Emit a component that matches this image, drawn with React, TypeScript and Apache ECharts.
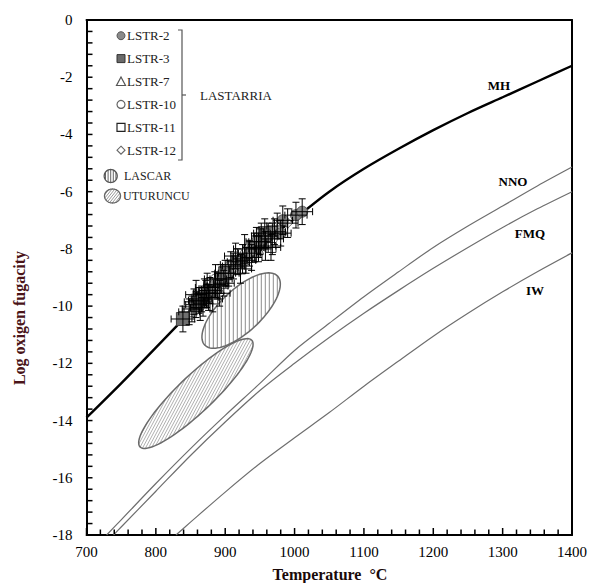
import React, { useEffect, useRef } from "react";
import * as echarts from "echarts";

// ---------- data ----------
const X_MIN = 700, X_MAX = 1400, X_STEP = 100, X_MINOR = 20;
const Y_MIN = -18, Y_MAX = 0, Y_STEP = 2, Y_MINOR = 0.4;

const MH = [[700,-13.9],[750,-12.7],[800,-11.45],[850,-10.2],[900,-9.0],[950,-7.9],[1000,-6.95],[1050,-6.0],[1100,-5.2],[1150,-4.5],[1200,-3.85],[1250,-3.25],[1300,-2.7],[1350,-2.15],[1400,-1.6]];
const NNO = [[729,-18],[750,-17.47],[800,-16.2],[850,-14.98],[900,-13.82],[950,-12.7],[1000,-11.55],[1050,-10.6],[1100,-9.67],[1150,-8.8],[1200,-7.95],[1250,-7.2],[1300,-6.5],[1350,-5.8],[1400,-5.14]];
const FMQ = [[739,-18],[750,-17.72],[800,-16.47],[850,-15.22],[900,-14.05],[950,-12.95],[1000,-12.0],[1050,-11.1],[1100,-10.25],[1150,-9.45],[1200,-8.68],[1250,-7.95],[1300,-7.25],[1350,-6.6],[1400,-6.0]];
const IW = [[829,-18],[850,-17.55],[900,-16.5],[950,-15.5],[1000,-14.6],[1050,-13.72],[1100,-12.8],[1150,-11.92],[1200,-11.05],[1250,-10.25],[1300,-9.5],[1350,-8.8],[1400,-8.14]];

// [T, logfO2, errT, errfO2]
const LSTR2 = [[862,-9.8,15,0.45],[872,-9.55,14,0.45],[885,-9.25,16,0.45],[905,-8.85,15,0.45],[925,-8.35,14,0.5],[935,-8.15,16,0.45],[945,-7.75,15,0.5],[962,-7.55,14,0.45],[971,-7.4,16,0.45],[980,-7.45,15,0.45],[983,-7.0,14,0.5],[1002,-6.82,16,0.45],[1011,-6.7,15,0.45]];
const LSTR3 = [[839,-10.45,17,0.45],[858,-9.95,15,0.45],[866,-9.75,14,0.45],[878,-9.45,16,0.45],[894,-9.05,16,0.5],[900,-8.85,15,0.45],[918,-8.45,15,0.45],[942,-7.95,14,0.5],[950,-7.75,16,0.45],[957,-7.45,16,0.5]];
const LSTR7 = [[852,-10.1,14,0.45],[868,-9.9,14,0.45],[874,-9.35,17,0.5],[889,-9.3,15,0.45],[912,-8.6,16,0.45],[928,-8.0,16,0.5],[948,-8.0,14,0.45]];
const LSTR10 = [[855,-9.85,14,0.45],[876,-9.7,15,0.45],[886,-9.05,16,0.5],[908,-8.55,15,0.45],[930,-8.4,14,0.45],[958,-7.9,15,0.5],[968,-7.65,16,0.55]];
const LSTR11 = [[848,-10.2,15,0.45],[870,-9.55,16,0.5],[882,-9.75,14,0.45],[898,-9.2,15,0.45],[922,-8.7,16,0.5],[938,-8.3,15,0.45],[966,-7.95,14,0.45]];
const LSTR12 = [[858,-9.6,15,0.5],[864,-10.05,14,0.45],[892,-9.55,15,0.45],[915,-8.25,16,0.45],[952,-7.55,14,0.45],[975,-7.2,15,0.45],[990,-7.1,15,0.5]];

// ellipse fields: major-axis end points [T1, fO2_1, T2, fO2_2]
const LASCAR = [[870.4,-11.36,975.5,-8.95]];
const UTURUNCU = [[777.2,-14.92,938.2,-11.19]];

const SERIF = "'Liberation Serif', 'Times New Roman', serif";

function ellipseParts(cx: number, cy: number, a: number, b: number, th: number,
  hatchAngle: number, spacing: number, hatchColor: string, borderColor: string, borderWidth: number) {
  const ux = Math.cos(th), uy = Math.sin(th);
  const vx = -uy, vy = ux;
  const pts: number[][] = [];
  for (let i = 0; i < 90; i++) {
    const t = (i / 90) * Math.PI * 2;
    const x = a * Math.cos(t), y = b * Math.sin(t);
    pts.push([cx + x * ux + y * vx, cy + x * uy + y * vy]);
  }
  const dx = Math.cos(hatchAngle), dy = Math.sin(hatchAngle);
  const nx = -dy, ny = dx;
  const du = dx * ux + dy * uy, dv = dx * vx + dy * vy;
  const nu = nx * ux + ny * uy, nv = nx * vx + ny * vy;
  const A = (du * du) / (a * a) + (dv * dv) / (b * b);
  const children: any[] = [];
  for (let t = -a + spacing / 2; t <= a; t += spacing) {
    const B = 2 * t * ((nu * du) / (a * a) + (nv * dv) / (b * b));
    const C = t * t * ((nu * nu) / (a * a) + (nv * nv) / (b * b)) - 1;
    const disc = B * B - 4 * A * C;
    if (disc <= 0) continue;
    const s = Math.sqrt(disc);
    const k1 = (-B - s) / (2 * A), k2 = (-B + s) / (2 * A);
    children.push({
      type: "line",
      shape: { x1: cx + t * nx + k1 * dx, y1: cy + t * ny + k1 * dy, x2: cx + t * nx + k2 * dx, y2: cy + t * ny + k2 * dy },
      style: { stroke: hatchColor, lineWidth: 1 },
    });
  }
  children.push({ type: "polygon", shape: { points: pts }, style: { fill: "none", stroke: borderColor, lineWidth: borderWidth } });
  return children;
}

function ellipseSeries(name: string, data: number[][], minor: number, hatchAngle: number, spacing: number, hatchColor: string) {
  return {
    name,
    type: "custom",
    z: 1,
    encode: { x: [0, 2], y: [1, 3] },
    data,
    renderItem: (_p: any, api: any) => {
      const p1 = api.coord([api.value(0), api.value(1)]);
      const p2 = api.coord([api.value(2), api.value(3)]);
      const cx = (p1[0] + p2[0]) / 2, cy = (p1[1] + p2[1]) / 2;
      const a = Math.hypot(p2[0] - p1[0], p2[1] - p1[1]) / 2;
      const th = Math.atan2(p2[1] - p1[1], p2[0] - p1[0]);
      return { type: "group", children: ellipseParts(cx, cy, a, minor, th, hatchAngle, spacing, hatchColor, "#6a6a6a", 1.5) };
    },
  };
}

const ALL_POINTS = [...LSTR3, ...LSTR2, ...LSTR7, ...LSTR10, ...LSTR11, ...LSTR12];

function scatter(name: string, data: number[][], symbol: string, size: number, fill: string, stroke: string) {
  return {
    name,
    type: "scatter",
    z: 3,
    data: data.map((d) => [d[0], d[1]]),
    symbol,
    symbolSize: size,
    itemStyle: { color: fill, borderColor: stroke, borderWidth: 1, opacity: 1 },
  };
}

function curve(name: string, data: number[][], color: string, width: number) {
  return {
    name,
    type: "line",
    data,
    smooth: 0.3,
    showSymbol: false,
    z: 2,
    lineStyle: { color, width },
  };
}

const frameAxis = (extra: any) => ({
  type: "value",
  axisLine: { show: true, onZero: false, lineStyle: { color: "#000", width: 2 } },
  axisTick: { show: false },
  axisLabel: { show: false },
  splitLine: { show: false },
  ...extra,
});

// inward tick marks along the bottom and left axes, placed through the axis scales
const tickSeries = {
  name: "ticks",
  type: "custom",
  z: 50,
  silent: true,
  clip: false,
  encode: { x: 0, y: 1 },
  data: [[(X_MIN + X_MAX) / 2, (Y_MIN + Y_MAX) / 2]],
  renderItem: (_p: any, api: any) => {
    const st = { stroke: "#000", lineWidth: 1.5 };
    const children: any[] = [];
    const nx = Math.round((X_MAX - X_MIN) / X_MINOR);
    for (let i = 0; i <= nx; i++) {
      const T = X_MIN + i * X_MINOR;
      const p = api.coord([T, Y_MIN]);
      const major = i % Math.round(X_STEP / X_MINOR) === 0;
      children.push({ type: "line", shape: { x1: p[0], y1: p[1] - 1, x2: p[0], y2: p[1] - (major ? 7 : 5.5) }, style: st });
    }
    const ny = Math.round((Y_MAX - Y_MIN) / Y_MINOR);
    for (let i = 0; i <= ny; i++) {
      const V = Y_MIN + i * Y_MINOR;
      const p = api.coord([X_MIN, V]);
      children.push({ type: "line", shape: { x1: p[0] + 1, y1: p[1], x2: p[0] + 6, y2: p[1] }, style: st });
    }
    return { type: "group", children };
  },
};

export default function App() {
  const ref = useRef<HTMLDivElement>(null);
  useEffect(() => {
    const chart = echarts.init(ref.current!, null, { renderer: "svg" });
    const legendY = [35.7, 58.6, 81.5, 104.4, 127.3, 150.2];
    const legendNames = ["LSTR-2", "LSTR-3", "LSTR-7", "LSTR-10", "LSTR-11", "LSTR-12"];
    const lx = 121;
    const legendIcons: any[] = [
      { type: "circle", shape: { cx: lx, cy: legendY[0], r: 4 }, style: { fill: "#8a8a8a", stroke: "#555", lineWidth: 1 } },
      { type: "rect", shape: { x: lx - 4, y: legendY[1] - 4, width: 8, height: 8 }, style: { fill: "#6a6a6a", stroke: "#333", lineWidth: 1 } },
      { type: "polygon", shape: { points: [[lx - 4.5, legendY[2] + 4], [lx + 4.5, legendY[2] + 4], [lx, legendY[2] - 4.5]] }, style: { fill: "#fff", stroke: "#555", lineWidth: 1.2 } },
      { type: "circle", shape: { cx: lx, cy: legendY[3], r: 4 }, style: { fill: "#fff", stroke: "#666", lineWidth: 1.2 } },
      { type: "rect", shape: { x: lx - 4, y: legendY[4] - 4, width: 8, height: 8 }, style: { fill: "#fff", stroke: "#222", lineWidth: 1.2 } },
      { type: "polygon", shape: { points: [[lx, legendY[5] - 4], [lx + 4, legendY[5]], [lx, legendY[5] + 4], [lx - 4, legendY[5]]] }, style: { fill: "#fff", stroke: "#666", lineWidth: 1.1 } },
    ];
    const legendTexts = legendNames.map((n, i) => ({
      type: "text", x: 127, y: legendY[i],
      style: { text: n, fontFamily: SERIF, fontSize: 13, fill: "#222", textVerticalAlign: "middle", textAlign: "left" },
    }));

    const option: any = {
      animation: false,
      backgroundColor: "#fff",
      grid: { left: 86.5, right: 12, top: 20, bottom: 48, show: false },
      xAxis: [
        {
          type: "value", min: X_MIN, max: X_MAX, interval: X_STEP, position: "bottom",
          axisLine: { show: true, onZero: false, lineStyle: { color: "#000", width: 2 } },
          axisTick: { show: false },
          splitLine: { show: false },
          axisLabel: { color: "#000", fontFamily: SERIF, fontSize: 15, margin: 9, formatter: (v: number) => String(v) },
        },
        frameAxis({ min: X_MIN, max: X_MAX, position: "top" }),
      ],
      yAxis: [
        {
          type: "value", min: Y_MIN, max: Y_MAX, interval: Y_STEP, position: "left",
          axisLine: { show: true, onZero: false, lineStyle: { color: "#000", width: 2 } },
          axisTick: { show: false },
          splitLine: { show: false },
          axisLabel: { color: "#000", fontFamily: SERIF, fontSize: 15, margin: 14, formatter: (v: number) => String(v) },
        },
        frameAxis({ min: Y_MIN, max: Y_MAX, position: "right" }),
      ],
      series: [
        ellipseSeries("LASCAR", LASCAR, 21, Math.PI / 2, 4, "#8c8c8c"),
        ellipseSeries("UTURUNCU", UTURUNCU, 18, -1.08, 2.6, "#b0b0b0"),
        curve("MH", MH, "#000", 2.4),
        curve("NNO", NNO, "#6e6e6e", 1.2),
        curve("FMQ", FMQ, "#6e6e6e", 1.2),
        curve("IW", IW, "#6e6e6e", 1.2),
        scatter("LSTR-10", LSTR10, "circle", 10, "#fff", "#666"),
        scatter("LSTR-11", LSTR11, "rect", 10, "#fff", "#333"),
        scatter("LSTR-12", LSTR12, "diamond", 10, "#fff", "#666"),
        scatter("LSTR-7", LSTR7, "triangle", 10, "#fff", "#555"),
        scatter("LSTR-3", LSTR3, "rect", 13, "#707070", "#444"),
        scatter("LSTR-2", LSTR2, "circle", 11, "#8a8a8a", "#555"),
        {
          name: "error",
          type: "custom",
          z: 4,
          encode: { x: 0, y: 1 },
          data: ALL_POINTS,
          renderItem: (_p: any, api: any) => {
            const t = api.value(0), v = api.value(1), dt = api.value(2), dv = api.value(3);
            const l = api.coord([t - dt, v]), r = api.coord([t + dt, v]);
            const b = api.coord([t, v - dv]), u = api.coord([t, v + dv]);
            const cap = 3.5;
            const st = { stroke: "#000", lineWidth: 1 };
            return {
              type: "group",
              children: [
                { type: "line", shape: { x1: l[0], y1: l[1], x2: r[0], y2: r[1] }, style: st },
                { type: "line", shape: { x1: l[0], y1: l[1] - cap, x2: l[0], y2: l[1] + cap }, style: st },
                { type: "line", shape: { x1: r[0], y1: r[1] - cap, x2: r[0], y2: r[1] + cap }, style: st },
                { type: "line", shape: { x1: b[0], y1: b[1], x2: u[0], y2: u[1] }, style: st },
                { type: "line", shape: { x1: b[0] - cap, y1: b[1], x2: b[0] + cap, y2: b[1] }, style: st },
                { type: "line", shape: { x1: u[0] - cap, y1: u[1], x2: u[0] + cap, y2: u[1] }, style: st },
              ],
            };
          },
        },
        tickSeries,
      ],
      graphic: [
        ...legendIcons,
        ...legendTexts,
        { type: "polyline", shape: { points: [[178, 30], [182, 30], [182, 160], [178, 160]] }, style: { stroke: "#555", lineWidth: 1.2, fill: "none" } },
        { type: "line", shape: { x1: 182, y1: 95, x2: 186, y2: 95 }, style: { stroke: "#555", lineWidth: 1.2 } },
        { type: "text", x: 200, y: 95, style: { text: "LASTARRIA", fontFamily: SERIF, fontSize: 13, fill: "#222", textVerticalAlign: "middle" } },
        { type: "group", children: ellipseParts(110.7, 176, 6.5, 6.5, 0, Math.PI / 2, 2.6, "#666", "#555", 1.3) },
        { type: "text", x: 124, y: 176, style: { text: "LASCAR", fontFamily: SERIF, fontSize: 12, fill: "#222", textVerticalAlign: "middle" } },
        { type: "group", children: ellipseParts(112.5, 196, 8, 7, 0, -0.9, 2.2, "#999", "#666", 1.3) },
        { type: "text", x: 123, y: 196, style: { text: "UTURUNCU", fontFamily: SERIF, fontSize: 12, fill: "#222", textVerticalAlign: "middle" } },
        { type: "text", x: 499, y: 85, style: { text: "MH", fontFamily: SERIF, fontSize: 13, fontWeight: "bold", fill: "#000", textAlign: "center", textVerticalAlign: "middle" } },
        { type: "text", x: 513, y: 181, style: { text: "NNO", fontFamily: SERIF, fontSize: 13, fontWeight: "bold", fill: "#000", textAlign: "center", textVerticalAlign: "middle" } },
        { type: "text", x: 530, y: 233, style: { text: "FMQ", fontFamily: SERIF, fontSize: 13, fontWeight: "bold", fill: "#000", textAlign: "center", textVerticalAlign: "middle" } },
        { type: "text", x: 535, y: 290, style: { text: "IW", fontFamily: SERIF, fontSize: 13, fontWeight: "bold", fill: "#000", textAlign: "center", textVerticalAlign: "middle" } },
        { type: "text", x: 330, y: 574, style: { text: "Temperature  °C", fontFamily: SERIF, fontSize: 16, fontWeight: "bold", fill: "#1a0a0a", textAlign: "center", textVerticalAlign: "middle" } },
        { type: "text", x: 19, y: 318, rotation: Math.PI / 2, style: { text: "Log oxigen fugacity", fontFamily: SERIF, fontSize: 16, fontWeight: "bold", fill: "#4a1418", textAlign: "center", textVerticalAlign: "middle" } },
      ],
    };
    chart.setOption(option);
    return () => chart.dispose();
  }, []);
  return <div ref={ref} style={{ position: "fixed", left: 0, top: 0, width: 590, height: 583 }} />;
}
